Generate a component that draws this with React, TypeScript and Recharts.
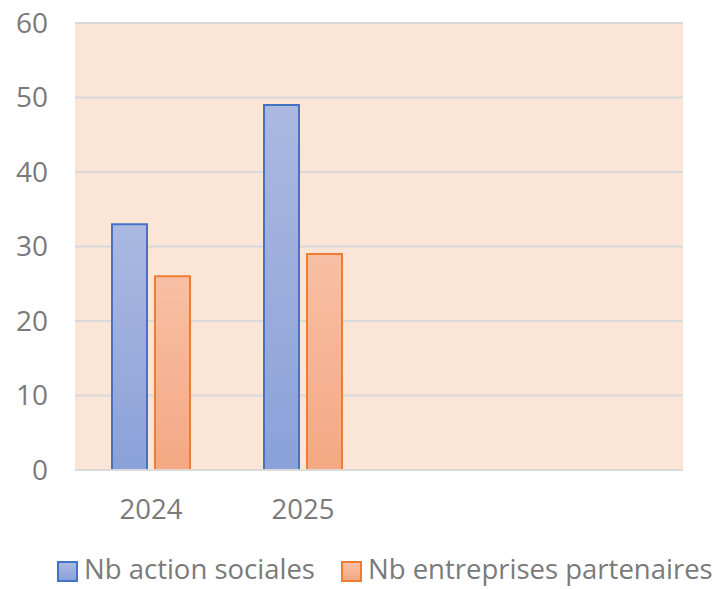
import React from 'react';
import { BarChart, Bar, XAxis, YAxis, CartesianGrid } from 'recharts';

const years = ['2024', '2025', '', ''];
const actionsSociales = [33, 49, null, null];
const entreprisesPartenaires = [26, 29, null, null];
const yTicks = [0, 10, 20, 30, 40, 50, 60];

const seriesNames = ['Nb action sociales', 'Nb entreprises partenaires'];

const data = years.map((year, i) => ({
  year,
  actions: actionsSociales[i],
  entreprises: entreprisesPartenaires[i],
}));

const FONT = '"Open Sans", "Noto Sans", sans-serif';
const TEXT = '#7a7a7a';

const legendItems = [
  { name: seriesNames[0], from: '#abb9e1', to: '#8aa1d9', stroke: '#4472c4' },
  { name: seriesNames[1], from: '#f7c0a4', to: '#f4a884', stroke: '#ed7d31' },
];

const Legend: React.FC = () => (
  <div
    style={{
      position: 'absolute',
      top: 560,
      left: 57,
      height: 22,
      display: 'flex',
      alignItems: 'center',
      fontFamily: FONT,
      fontSize: 27.5,
      lineHeight: '22px',
      color: TEXT,
      whiteSpace: 'nowrap',
    }}
  >
    {legendItems.map((item, i) => (
      <div key={item.name} style={{ display: 'flex', alignItems: 'center', marginRight: i === 0 ? 26 : 0 }}>
        <span
          style={{
            display: 'inline-block',
            width: 17,
            height: 17,
            border: `2px solid ${item.stroke}`,
            background: `linear-gradient(${item.from}, ${item.to})`,
            marginRight: 6,
          }}
        />
        <span style={{ position: 'relative', top: -2 }}>{item.name}</span>
      </div>
    ))}
  </div>
);

export default function App() {
  return (
    <div style={{ position: 'relative', width: 717, height: 589, background: '#fff' }}>
      <style>{`body{margin:0}`}</style>
      <BarChart
        width={717}
        height={589}
        data={data}
        margin={{ top: 23, right: 34, bottom: 59, left: 0 }}
        barCategoryGap={37}
        barGap={8}
      >
        <defs>
          <linearGradient id="gradBlue" x1="0" y1="0" x2="0" y2="1">
            <stop offset="0%" stopColor="#abb9e1" />
            <stop offset="100%" stopColor="#8aa1d9" />
          </linearGradient>
          <linearGradient id="gradOrange" x1="0" y1="0" x2="0" y2="1">
            <stop offset="0%" stopColor="#f7c0a4" />
            <stop offset="100%" stopColor="#f4a884" />
          </linearGradient>
        </defs>
        <CartesianGrid
          vertical={false}
          fill="#fbe5d6"
          stroke="#d9d9d9"
          strokeWidth={2}
          horizontalValues={yTicks}
        />
        <XAxis
          dataKey="year"
          height={60}
          tickLine={false}
          tickSize={0}
          tickMargin={29}
          axisLine={{ stroke: '#d9d9d9', strokeWidth: 2 }}
          tick={{ fill: TEXT, fontSize: 27.5, fontFamily: FONT }}
        />
        <YAxis
          width={75}
          domain={[0, 60]}
          ticks={yTicks}
          interval={0}
          tickLine={false}
          tickSize={0}
          tickMargin={27}
          axisLine={false}
          tick={{ fill: TEXT, fontSize: 28, fontFamily: FONT }}
        />
        <Bar
          dataKey="actions"
          name={seriesNames[0]}
          fill="url(#gradBlue)"
          stroke="#4472c4"
          strokeWidth={2}
          isAnimationActive={false}
        />
        <Bar
          dataKey="entreprises"
          name={seriesNames[1]}
          fill="url(#gradOrange)"
          stroke="#ed7d31"
          strokeWidth={2}
          isAnimationActive={false}
        />
      </BarChart>
      <Legend />
    </div>
  );
}
